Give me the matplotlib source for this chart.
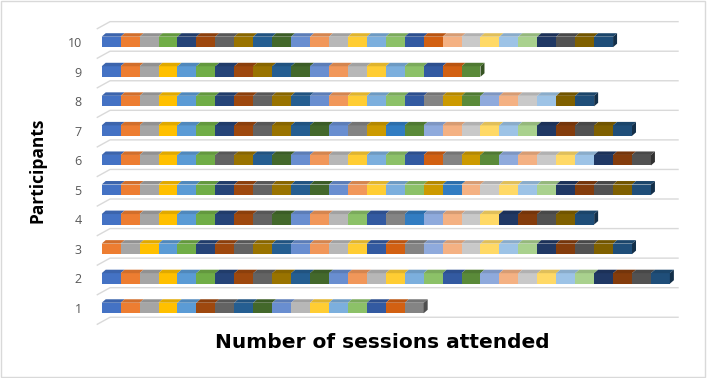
import matplotlib.pyplot as plt
from matplotlib.patches import Polygon, Rectangle
from matplotlib import colors as mcolors

participants = [1, 2, 3, 4, 5, 6, 7, 8, 9, 10]

# sessions each participant attended (the session number picks the colour)
sessions_attended = {
    1: [1, 2, 3, 4, 5, 8, 9, 11, 12, 13, 15, 16, 17, 18, 19, 20, 21],
    2: [1, 2, 3, 4, 5, 6, 7, 8, 9, 10, 11, 12, 13, 14, 15, 16, 17, 18, 19,
        24, 25, 26, 27, 28, 29, 30, 31, 32, 33, 35],
    3: [2, 3, 4, 5, 6, 7, 8, 9, 10, 11, 13, 14, 15, 16, 19, 20, 21,
        25, 26, 27, 28, 29, 30, 31, 32, 33, 34, 35],
    4: [1, 2, 3, 4, 5, 6, 7, 8, 9, 12, 13, 14, 15, 18, 19, 21, 23,
        25, 26, 27, 28, 31, 32, 33, 34, 35],
    5: [1, 2, 3, 4, 5, 6, 7, 8, 9, 10, 11, 12, 13, 14, 16, 17, 18, 22, 23,
        26, 27, 28, 29, 30, 31, 32, 33, 34, 35],
    6: [1, 2, 3, 4, 5, 6, 9, 10, 11, 12, 13, 14, 15, 16, 17, 18, 19, 20, 21, 22,
        24, 25, 26, 27, 28, 29, 31, 32, 33],
    7: [1, 2, 3, 4, 5, 6, 7, 8, 9, 10, 11, 12, 13, 21, 22, 23, 24,
        25, 26, 27, 28, 29, 30, 31, 32, 33, 34, 35],
    8: [1, 2, 3, 4, 5, 6, 7, 8, 9, 10, 11, 13, 14, 16, 17, 18, 19, 21, 22, 24,
        25, 26, 27, 29, 34, 35],
    9: [1, 2, 3, 4, 5, 6, 7, 8, 10, 11, 12, 13, 14, 15, 16, 17, 18, 19, 20, 24],
    10: [1, 2, 3, 6, 7, 8, 9, 10, 11, 12, 13, 14, 15, 16, 17, 18, 19, 20,
         26, 27, 28, 29, 30, 31, 33, 34, 35],
}

# excel series colours, session 1..36
session_colors = ['#4472C4', '#ED7D31', '#A5A5A5', '#FFC000', '#5B9BD5', '#70AD47',
                  '#264478', '#9E480E', '#636363', '#997300', '#255E91', '#43682B',
                  '#698ED0', '#F1975A', '#B7B7B7', '#FFCD33', '#7CAFDD', '#8CC168',
                  '#335AA1', '#D26012', '#848484', '#CC9A00', '#327DC2', '#5A8A39',
                  '#8FAADC', '#F4B183', '#C9C9C9', '#FFD966', '#9DC3E6', '#A9D18E',
                  '#203864', '#843C0C', '#525252', '#7F6000', '#1F4E79', '#385723']

x_max = 30

# 3d look (in data units)
bar_h = 0.355
dx, dy = 0.211, 0.118


def shade(c, f):
  r, g, b = mcolors.to_rgb(c)
  return (r * f, g * f, b * f)


fig = plt.figure(figsize=(7.07, 3.78), dpi=100)
ax = fig.add_axes([90 / 707, 38 / 378, 610 / 707, 335 / 378])
ax.set_xlim(-0.618, 31.59)
ax.set_ylim(-0.0825, 11.25)
for s in ax.spines.values():
  s.set_visible(False)
ax.set_xticks([])

# gridlines: slanted piece on side wall + line on back wall
for k in range(len(participants) + 1):
  yf = k + 0.5 - 0.05
  yb = yf + 0.237
  ax.plot([-0.232, 0.44, x_max + 0.43], [yf, yb, yb], color='#d9d9d9', lw=1, zorder=1)

for p in participants:
  sess = sessions_attended[p]
  lefts = list(range(len(sess)))
  cols = [session_colors[s - 1] for s in sess]
  ax.barh([p] * len(sess), 1, left=lefts, height=bar_h, color=cols, lw=0, zorder=3)
  top = p + bar_h / 2
  bot = p - bar_h / 2
  for left, c in zip(lefts, cols):
    ax.add_patch(Polygon([(left, top), (left + 1, top), (left + 1 + dx, top + dy), (left + dx, top + dy)],
                         closed=True, fc=shade(c, 0.88), ec='none', zorder=3))
  end = len(sess)
  ax.add_patch(Polygon([(end, bot), (end, top), (end + dx, top + dy), (end + dx, bot + dy)],
                       closed=True, fc=shade(cols[-1], 0.6), ec='none', zorder=3))

ax.set_yticks(participants)
ax.set_yticklabels([str(p) for p in participants], fontsize=9, color='#595959', family='Open Sans')
ax.tick_params(axis='y', length=0, pad=6)

fig.text(37 / 707, 1 - 170 / 378, 'Participants', rotation=90, ha='center', va='center',
         fontsize=12.5, fontweight='bold', family='Open Sans')
fig.text(382 / 707, 1 - 342 / 378, 'Number of sessions attended', ha='center', va='center',
         fontsize=14.5, fontweight='bold', family='DejaVu Sans')

fig.patches.append(Rectangle((0.002, 0.003), 0.995, 0.994, transform=fig.transFigure,
                             fill=False, ec='#d9d9d9', lw=1))

fig.savefig('out.png', dpi=100)
